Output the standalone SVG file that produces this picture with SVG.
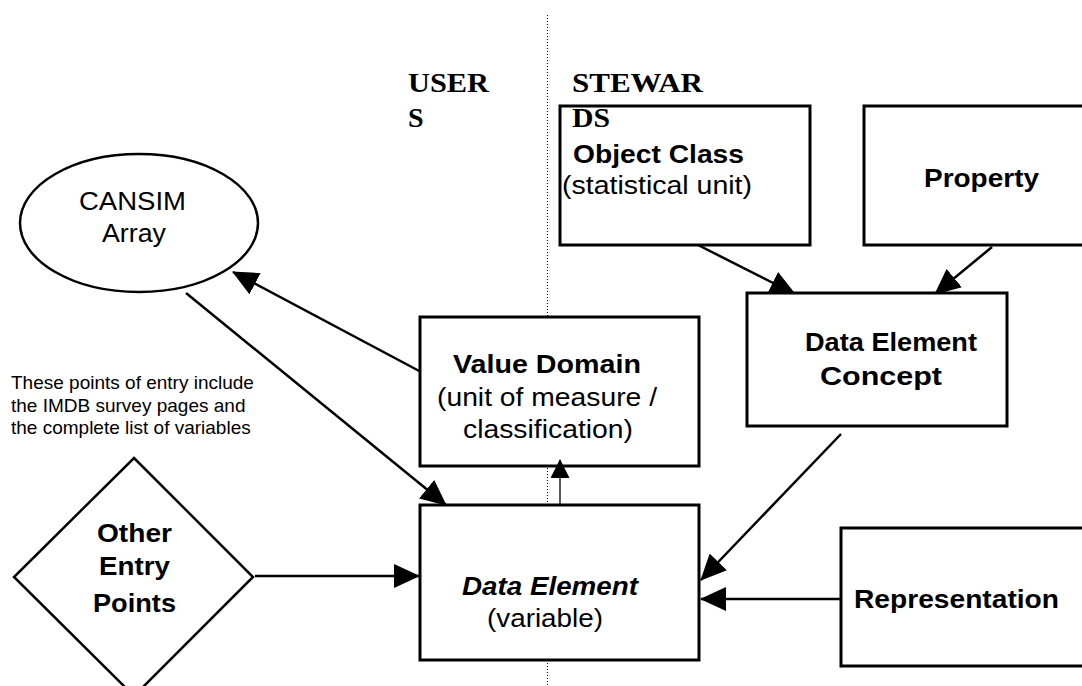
<svg xmlns="http://www.w3.org/2000/svg" width="1082" height="686" viewBox="0 0 1082 686">
<style>
.box{fill:#fff;stroke:#000;stroke-width:3}
.con{fill:none;stroke:#000;stroke-width:2.5}
.thin{fill:none;stroke:#000;stroke-width:1.3}
.b{font-family:"Liberation Sans",Arial,sans-serif;font-weight:bold;font-size:26px;fill:#000}
.r{font-family:"Liberation Sans",Arial,sans-serif;font-size:26px;fill:#000}
.n{font-family:"Liberation Sans",Arial,sans-serif;font-size:19px;fill:#000}
.t{font-family:"Liberation Serif","Times New Roman",serif;font-weight:bold;font-size:28px;fill:#000}
</style>
<defs>
<marker id="ah" viewBox="0 0 26 24" refX="25" refY="12" markerWidth="26" markerHeight="24" markerUnits="userSpaceOnUse" orient="auto">
<path d="M0,0 L26,12 L0,24 z" fill="#000"/>
</marker>
<marker id="ahs" viewBox="0 0 19 19" refX="18" refY="9.5" markerWidth="19" markerHeight="19" markerUnits="userSpaceOnUse" orient="auto">
<path d="M0,0 L19,9.5 L0,19 z" fill="#000"/>
</marker>
</defs>
<rect width="1082" height="686" fill="#fff"/>
<line x1="547.5" y1="15" x2="547.5" y2="686" stroke="#000" stroke-width="1" stroke-dasharray="1,2"/>
<g id="note">
<text class="n" x="11" y="389">These points of entry include</text>
<text class="n" x="11" y="412">the IMDB survey pages and</text>
<text class="n" x="11" y="434">the complete list of variables</text>
</g>
<g id="connectors">
<line class="con" x1="423" y1="373" x2="233" y2="272" marker-end="url(#ah)"/>
<line class="con" x1="186" y1="293" x2="446" y2="505" marker-end="url(#ah)"/>
<line class="con" x1="255" y1="576" x2="419" y2="576" marker-end="url(#ah)"/>
<line class="con" x1="698" y1="245" x2="795" y2="294" marker-end="url(#ah)"/>
<line class="con" x1="992" y1="247" x2="935" y2="294" marker-end="url(#ah)"/>
<line class="con" x1="841" y1="434" x2="701" y2="580" marker-end="url(#ah)"/>
<line class="con" x1="841" y1="599" x2="701" y2="599" marker-end="url(#ah)"/>
</g>
<g id="cansim">
<ellipse cx="139" cy="223" rx="119" ry="69" fill="#fff" stroke="#000" stroke-width="2.5"/>
<text class="r" x="79" y="210" textLength="107" lengthAdjust="spacingAndGlyphs">CANSIM</text>
<text class="r" x="102" y="242" textLength="64" lengthAdjust="spacingAndGlyphs">Array</text>
</g>
<g id="object-class">
<rect class="box" x="560" y="106" width="250" height="139"/>
<text class="b" x="573" y="163" textLength="171" lengthAdjust="spacingAndGlyphs">Object Class</text>
<text class="r" x="562" y="194" textLength="190" lengthAdjust="spacingAndGlyphs">(statistical unit)</text>
</g>
<g id="property">
<rect class="box" x="864" y="106" width="230" height="139"/>
<text class="b" x="924" y="187" textLength="115" lengthAdjust="spacingAndGlyphs">Property</text>
</g>
<g id="data-element-concept">
<rect class="box" x="747" y="293" width="260" height="133"/>
<text class="b" x="805" y="351" textLength="172" lengthAdjust="spacingAndGlyphs">Data Element</text>
<text class="b" x="820" y="385" textLength="122" lengthAdjust="spacingAndGlyphs">Concept</text>
</g>
<g id="value-domain">
<rect class="box" x="420" y="317" width="279" height="149"/>
<text class="b" x="453" y="373" textLength="188" lengthAdjust="spacingAndGlyphs">Value Domain</text>
<text class="r" x="437" y="406" textLength="220" lengthAdjust="spacingAndGlyphs">(unit of measure /</text>
<text class="r" x="463" y="438" textLength="170" lengthAdjust="spacingAndGlyphs">classification)</text>
</g>
<g id="data-element">
<rect class="box" x="420" y="505" width="279" height="155"/>
<text class="b" x="462" y="595" font-style="italic" textLength="176" lengthAdjust="spacingAndGlyphs">Data Element</text>
<text class="r" x="487" y="627" textLength="116" lengthAdjust="spacingAndGlyphs">(variable)</text>
</g>
<g id="representation">
<rect class="box" x="841" y="528" width="250" height="138"/>
<text class="b" x="854" y="608" textLength="205" lengthAdjust="spacingAndGlyphs">Representation</text>
</g>
<g id="other-entry-points">
<polygon points="134,458 253,577 134,696 14,577" fill="#fff" stroke="#000" stroke-width="2.5"/>
<text class="b" x="97" y="542" textLength="75" lengthAdjust="spacingAndGlyphs">Other</text>
<text class="b" x="99" y="575" textLength="71" lengthAdjust="spacingAndGlyphs">Entry</text>
<text class="b" x="93" y="612" textLength="83" lengthAdjust="spacingAndGlyphs">Points</text>
</g>
<g id="connector-thin">
<line class="thin" x1="560" y1="505" x2="560" y2="460" marker-end="url(#ahs)"/>
</g>
<g id="lane-labels">
<text class="t" x="408" y="92" textLength="81" lengthAdjust="spacingAndGlyphs">USER</text>
<text class="t" x="408" y="127">S</text>
<text class="t" x="572" y="92" textLength="131" lengthAdjust="spacingAndGlyphs">STEWAR</text>
<text class="t" x="572" y="127" textLength="38" lengthAdjust="spacingAndGlyphs">DS</text>
</g>
</svg>
